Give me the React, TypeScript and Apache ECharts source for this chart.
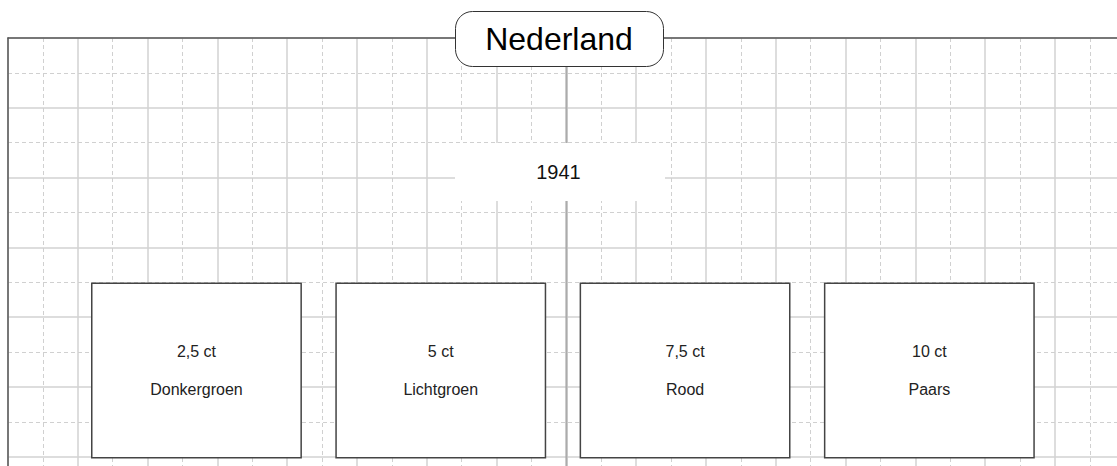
import React, { useEffect, useRef } from "react";
import * as echarts from "echarts";

// Album page content
const pageTitle = "Nederland";
const yearLabel = "1941";
const stampValues = ["2,5 ct", "5 ct", "7,5 ct", "10 ct"];
const stampColors = ["Donkergroen", "Lichtgroen", "Rood", "Paars"];

// Grid (in grid units; one unit = one dashed sub-cell)
const X_MAX = 32;
const Y_MAX = 14;
const CENTER_X = 16;

// Stamp box layout (grid units)
const BOX_X0 = 2.4;
const BOX_PITCH = 7;
const BOX_Y0 = 7.03;
const BOX_W = 6;
const BOX_H = 5;

const UNIT = 34.9;
const FONT = "'Liberation Sans', Arial, sans-serif";

export default function App() {
  const ref = useRef<HTMLDivElement>(null);

  useEffect(() => {
    if (!ref.current) return;
    document.body.style.overflow = "hidden";
    const chart = echarts.init(ref.current, null, { renderer: "svg" });

    const axisCommon = {
      axisLabel: { show: false },
      axisTick: { show: false },
      axisLine: {
        show: true,
        onZero: false,
        lineStyle: { color: "#555", width: 1.5 },
      },
      interval: 2,
      splitLine: { show: true, lineStyle: { color: "#d2d2d2", width: 1.5 } },
      minorTick: { show: false, splitNumber: 2 },
      minorSplitLine: {
        show: true,
        lineStyle: { color: "#d0d0d0", width: 1, type: [4, 3] },
      },
    };

    const option: any = {
      animation: false,
      backgroundColor: "#ffffff",
      grid: {
        left: 8,
        top: 38,
        width: X_MAX * UNIT,
        height: Y_MAX * UNIT,
        show: false,
      },
      xAxis: {
        type: "value",
        position: "top",
        min: 0,
        max: X_MAX,
        ...axisCommon,
      },
      yAxis: {
        type: "value",
        position: "left",
        min: 0,
        max: Y_MAX,
        inverse: true,
        ...axisCommon,
      },
      series: [
        {
          type: "line",
          z: 3,
          symbol: "none",
          silent: true,
          lineStyle: { color: "#ababab", width: 2 },
          data: [
            [CENTER_X, 0],
            [CENTER_X, Y_MAX],
          ],
        },
        {
          type: "custom",
          z: 4,
          silent: true,
          encode: { x: 0, y: 1 },
          data: stampValues.map((_, i) => [BOX_X0 + i * BOX_PITCH, BOX_Y0]),
          renderItem: (params: any, api: any) => {
            const i = params.dataIndex;
            const tl = api.coord([api.value(0), api.value(1)]);
            const sz = api.size([BOX_W, BOX_H]);
            const cx = tl[0] + sz[0] / 2;
            const cy = tl[1] + sz[1] / 2;
            return {
              type: "group",
              children: [
                {
                  type: "rect",
                  shape: { x: tl[0], y: tl[1], width: sz[0], height: sz[1] },
                  style: { fill: "#ffffff", stroke: "#444", lineWidth: 1.5 },
                },
                {
                  type: "text",
                  x: cx,
                  y: cy - 19,
                  style: {
                    text: stampValues[i],
                    fill: "#222",
                    font: `16px ${FONT}`,
                    align: "center",
                    verticalAlign: "middle",
                  },
                },
                {
                  type: "text",
                  x: cx,
                  y: cy + 19,
                  style: {
                    text: stampColors[i],
                    fill: "#222",
                    font: `16px ${FONT}`,
                    align: "center",
                    verticalAlign: "middle",
                  },
                },
              ],
            };
          },
        },
      ],
      graphic: {
        z: 100,
        elements: [
          {
            type: "rect",
            z: 100,
            shape: { x: 455, y: 143, width: 210, height: 58 },
            style: { fill: "#ffffff" },
          },
          {
            type: "text",
            z: 101,
            x: 558.5,
            y: 171.5,
            style: {
              text: yearLabel,
              fill: "#111",
              font: `20px ${FONT}`,
              align: "center",
              verticalAlign: "middle",
            },
          },
          {
            type: "rect",
            z: 100,
            shape: { x: 455.5, y: 11.5, width: 208, height: 55, r: 17 },
            style: { fill: "#ffffff", stroke: "#333", lineWidth: 1 },
          },
          {
            type: "text",
            z: 101,
            x: 559,
            y: 39,
            style: {
              text: pageTitle,
              fill: "#000",
              font: `32px ${FONT}`,
              align: "center",
              verticalAlign: "middle",
            },
          },
        ],
      },
    };

    chart.setOption(option);
    return () => chart.dispose();
  }, []);

  return (
    <div
      ref={ref}
      style={{ position: "fixed", left: 0, top: 0, width: 1200, height: 560 }}
    />
  );
}
